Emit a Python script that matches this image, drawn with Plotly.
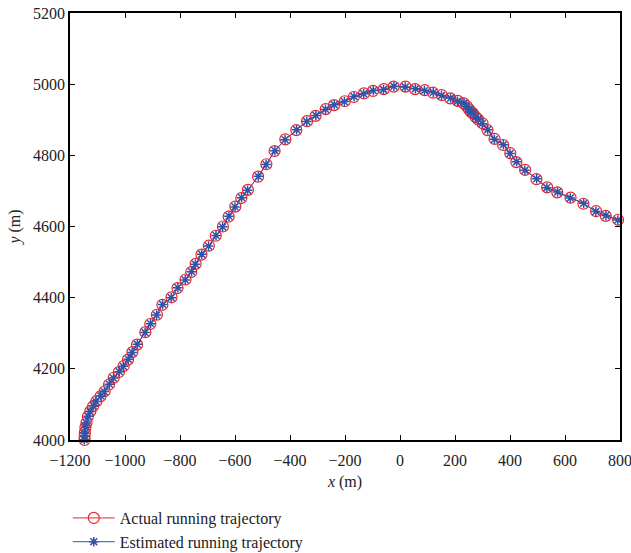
import plotly.graph_objects as go

actual_x = [-1147, -1147, -1146, -1144, -1140, -1135, -1126, -1116, -1104, -1089, -1074, -1058, -1041, -1022, -1005, -989, -973, -956, -926, -908, -884, -864, -831, -809, -780, -759, -743, -722, -695, -670, -644, -623, -599, -577, -553, -516, -486, -456, -417, -377, -338, -307, -270, -240, -201, -168, -131, -98, -59, -23, 20, 55, 90, 120, 152, 183, 210, 232, 243, 251, 258, 265, 275, 284, 300, 318, 344, 375, 401, 423, 455, 496, 535, 572, 620, 667, 713, 748, 793]
actual_y = [4000, 4010, 4021, 4035, 4049, 4066, 4081, 4095, 4109, 4123, 4137, 4156, 4175, 4191, 4208, 4226, 4247, 4268, 4303, 4326, 4352, 4380, 4401, 4427, 4451, 4472, 4495, 4521, 4546, 4574, 4600, 4628, 4656, 4680, 4703, 4740, 4775, 4812, 4845, 4871, 4896, 4911, 4930, 4941, 4952, 4964, 4974, 4981, 4986, 4993, 4993, 4986, 4983, 4976, 4969, 4960, 4953, 4946, 4938, 4929, 4922, 4918, 4908, 4901, 4890, 4871, 4846, 4829, 4806, 4781, 4759, 4733, 4710, 4696, 4681, 4664, 4643, 4630, 4619]

est_x = [-1148, -1146, -1147, -1143, -1141, -1134, -1127, -1115, -1105, -1088, -1075, -1057, -1042, -1021, -1006, -988, -974, -955, -927, -907, -885, -863, -832, -808, -781, -758, -744, -721, -696, -669, -645, -622, -600, -576, -554, -515, -487, -455, -418, -376, -339, -306, -271, -239, -202, -167, -132, -97, -60, -22, 19, 56, 89, 121, 151, 184, 209, 233, 242, 252, 257, 266, 274, 285, 299, 319, 343, 376, 400, 424, 454, 497, 534, 573, 619, 668, 712, 749, 792]
est_y = [4001, 4011, 4020, 4036, 4048, 4067, 4080, 4096, 4108, 4124, 4136, 4157, 4174, 4192, 4207, 4227, 4246, 4269, 4302, 4327, 4351, 4381, 4400, 4428, 4450, 4473, 4494, 4522, 4545, 4575, 4599, 4629, 4655, 4681, 4702, 4741, 4774, 4813, 4844, 4872, 4895, 4912, 4929, 4942, 4951, 4965, 4973, 4982, 4985, 4994, 4992, 4987, 4982, 4977, 4968, 4961, 4952, 4947, 4937, 4930, 4921, 4919, 4907, 4902, 4889, 4872, 4845, 4830, 4805, 4782, 4758, 4734, 4709, 4697, 4680, 4665, 4642, 4631, 4618]

x_ticks = [-1200, -1000, -800, -600, -400, -200, 0, 200, 400, 600, 800]
y_ticks = [4000, 4200, 4400, 4600, 4800, 5000, 5200]

RED = "#e8252c"
BLUE = "#3353a8"
FONT = "Liberation Serif"
TXT = "#222"

fig = go.Figure()
fig.add_trace(go.Scatter(
    x=actual_x, y=actual_y, mode="lines+markers",
    name="Actual running trajectory",
    line=dict(color=RED, width=1),
    marker=dict(symbol="circle-open", size=11, color=RED, line=dict(width=1.2, color=RED)),
    cliponaxis=False,
))
fig.add_trace(go.Scatter(
    x=est_x, y=est_y, mode="lines+markers",
    name="Estimated running trajectory",
    line=dict(color=BLUE, width=1),
    marker=dict(symbol="asterisk-open", size=8, color=BLUE, line=dict(width=1.5, color=BLUE)),
    cliponaxis=False,
))

axis_common = dict(
    showline=True, linecolor="black", linewidth=1.5, mirror="ticks",
    ticks="inside", ticklen=5, tickcolor="black", tickwidth=1.2,
    showgrid=False, zeroline=False, automargin=False,
    ticklabeloverflow="allow",
    tickfont=dict(family=FONT, size=16, color=TXT),
)

fig.update_layout(
    width=631, height=553,
    margin=dict(l=70, r=11, t=13, b=113),
    paper_bgcolor="white", plot_bgcolor="white",
    font=dict(family=FONT, size=16, color=TXT),
    showlegend=True,
    legend=dict(
        x=-0.004, xref="paper", y=0.094, yref="container",
        xanchor="left", yanchor="top", itemwidth=42,
        font=dict(family=FONT, size=16, color=TXT),
        bgcolor="rgba(0,0,0,0)", tracegroupgap=0,
    ),
    xaxis=dict(
        range=[-1200, 800], tickvals=x_ticks, ticklabelstandoff=5,
        title=dict(text="<i>x</i> (m)", font=dict(family=FONT, size=16, color=TXT), standoff=8),
        **axis_common,
    ),
    yaxis=dict(
        range=[4000, 5200], tickvals=y_ticks,
        title=dict(text="<i>y</i> (m)", font=dict(family=FONT, size=16, color=TXT), standoff=8),
        **axis_common,
    ),
)

fig.write_html("out.html", config={"displayModeBar": False},
               post_script="document.body.style.margin='0';")
